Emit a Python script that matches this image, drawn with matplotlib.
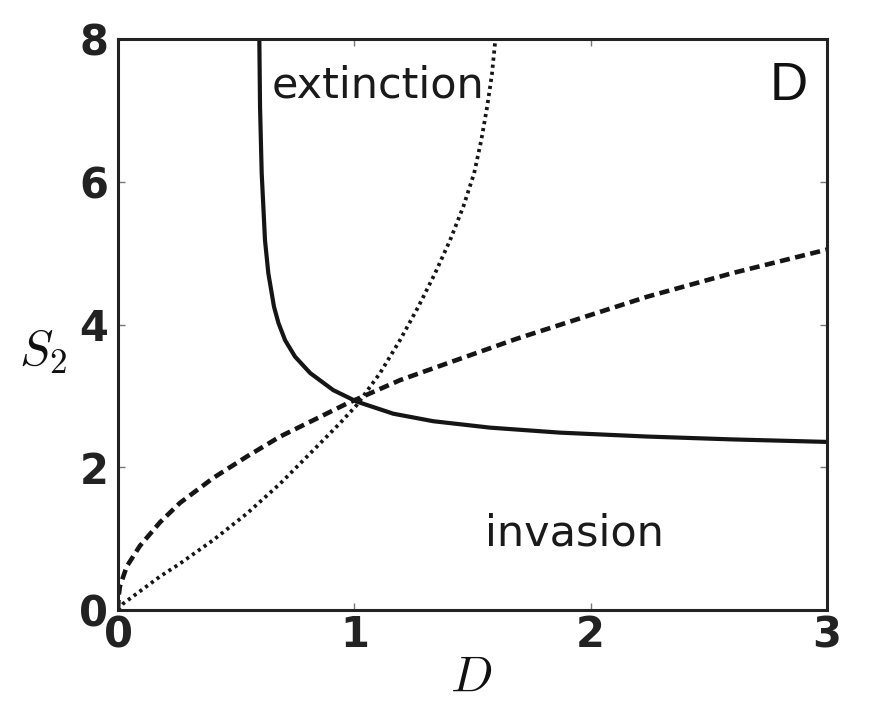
import matplotlib
matplotlib.use("Agg")
import matplotlib.pyplot as plt

# ---- data ----
solid_D = [0.598, 0.601, 0.608, 0.615, 0.622, 0.636, 0.660, 0.679, 0.707, 0.749,
           0.813, 0.911, 1.010, 1.165, 1.334, 1.574, 1.870, 2.240, 2.600, 3.000]
solid_S = [8.00, 7.05, 6.12, 5.65, 5.18, 4.72, 4.25, 4.02, 3.78, 3.55,
           3.32, 3.08, 2.92, 2.75, 2.645, 2.555, 2.485, 2.43, 2.39, 2.355]

dashed_D = [0.0, 0.003, 0.008, 0.037, 0.093, 0.178, 0.262, 0.403, 0.545, 0.686,
            0.827, 0.967, 1.193, 1.405, 1.687, 2.24, 2.60, 3.00]
dashed_S = [0.0, 0.20, 0.33, 0.61, 0.90, 1.23, 1.50, 1.85, 2.15, 2.43,
            2.66, 2.89, 3.22, 3.47, 3.80, 4.39, 4.72, 5.05]

dotted_D = [0.0, 0.022, 0.178, 0.262, 0.403, 0.545, 0.686, 0.827, 0.940, 1.010,
            1.109, 1.193, 1.271, 1.342, 1.405, 1.461, 1.507, 1.537, 1.562, 1.582, 1.597]
dotted_S = [0.0, 0.09, 0.47, 0.65, 0.98, 1.35, 1.77, 2.24, 2.62, 2.87,
            3.32, 3.78, 4.25, 4.72, 5.18, 5.65, 6.12, 6.58, 7.05, 7.50, 8.00]

x_ticks = [0, 1, 2, 3]
y_ticks = [0, 2, 4, 6, 8]

plt.rcParams['mathtext.fontset'] = 'cm'
plt.rcParams['font.family'] = ['DejaVu Sans']

fig = plt.figure(figsize=(8.9, 7.08), dpi=100)
ax = fig.add_axes([118/890, 1-610/708, (827-118)/890, (610-39)/708])

ink = '#151515'
ax.plot(solid_D, solid_S, color=ink, lw=3.0, solid_capstyle='butt', solid_joinstyle='round')
ax.plot(dashed_D, dashed_S, color=ink, lw=3.3, dashes=(2.2, 1.2), dash_capstyle='butt')
ax.plot(dotted_D, dotted_S, color=ink, lw=2.7, dashes=(0.85, 1.05), dash_capstyle='butt')

ax.set_xlim(0, 3)
ax.set_ylim(0, 8)
ax.set_xticks(x_ticks)
ax.set_yticks(y_ticks)
ax.set_xticklabels([str(t) for t in x_ticks], fontsize=30, fontweight='bold', color='#222222')
ax.set_yticklabels([str(t) for t in y_ticks], fontsize=30, fontweight='bold', color='#222222')
ax.tick_params(axis='both', direction='in', length=5, width=1.0, color='#777777',
               top=True, right=True)
ax.tick_params(axis='x', pad=3)
ax.tick_params(axis='y', pad=7)
for sp in ax.spines.values():
    sp.set_linewidth(2.2)
    sp.set_color('#222222')

ax.text(0.652, 7.18, 'extinction', fontsize=31, color='#1a1a1a', ha='left', va='baseline')
ax.text(1.553, 0.91, 'invasion', fontsize=31, color='#1a1a1a', ha='left', va='baseline')
ax.text(2.92, 7.14, 'D', fontsize=38, family='Liberation Sans', color='#111111',
        ha='right', va='baseline')

fig.text(471/890, 1-677/708, '$D$', fontsize=36, ha='center', va='center', color='#111111')
fig.text(43/890, 1-352/708, '$S_2$', fontsize=36, ha='center', va='center', color='#111111')

fig.savefig('out.png', dpi=100)
